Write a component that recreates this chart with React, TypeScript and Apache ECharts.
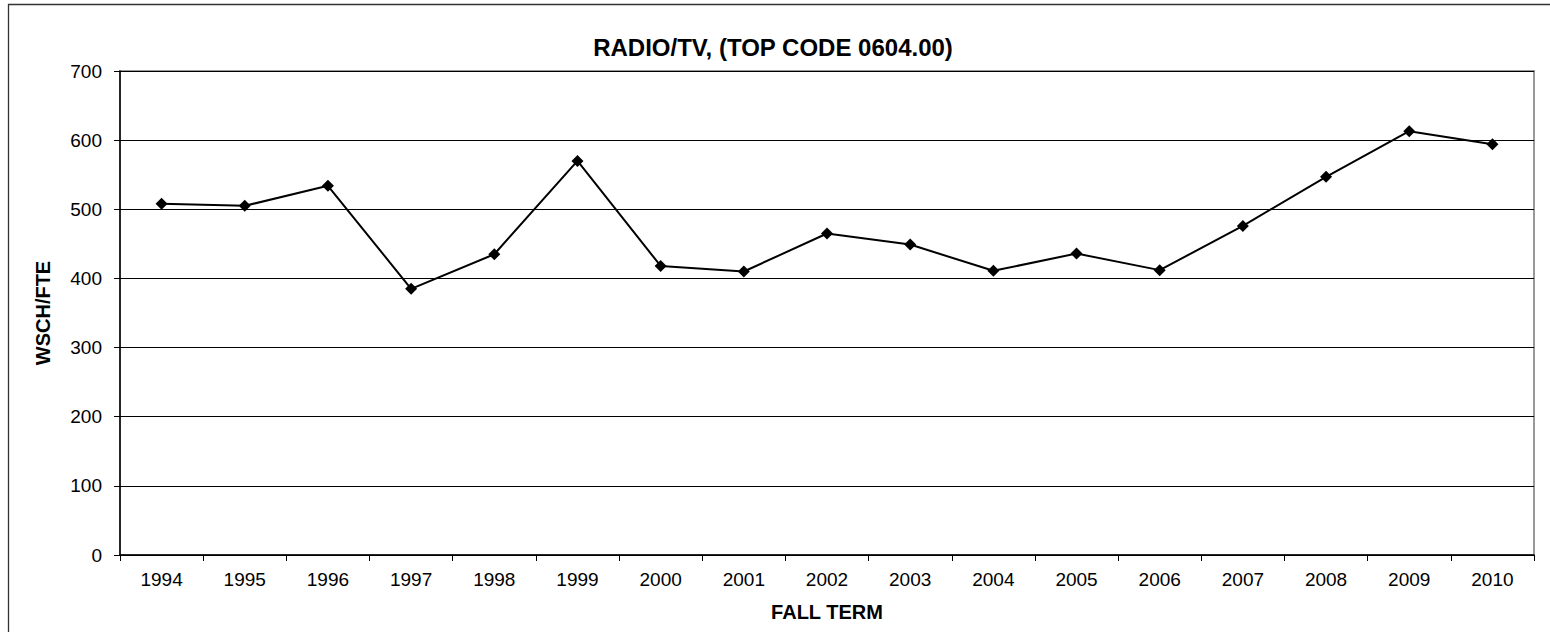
import React, { useEffect, useRef } from "react";
import * as echarts from "echarts";

const years = ["1994", "1995", "1996", "1997", "1998", "1999", "2000", "2001", "2002", "2003", "2004", "2005", "2006", "2007", "2008", "2009", "2010"];
const wschFte = [508, 505, 534, 385, 435, 570, 418, 410, 465, 449, 411, 436, 412, 476, 547, 613, 594];
const chartTitle = "RADIO/TV, (TOP CODE 0604.00)";
const xTitle = "FALL TERM";
const yTitle = "WSCH/FTE";

const FONT = "'Liberation Sans', Arial, sans-serif";

export default function App() {
  const ref = useRef<HTMLDivElement>(null);
  useEffect(() => {
    if (!ref.current) return;
    const chart = echarts.init(ref.current, null, { renderer: "svg" });
    chart.setOption({
      animation: false,
      backgroundColor: "#ffffff",
      title: {
        text: chartTitle,
        left: 768,
        top: 30,
        textAlign: "center",
        textStyle: { fontFamily: FONT, fontSize: 24, fontWeight: "bold", color: "#000" },
      },
      graphic: [
        {
          type: "polyline",
          shape: { points: [[8.5, 700], [8.5, 4.5], [1600, 4.5]] },
          style: { fill: "none", stroke: "#333", lineWidth: 1.3 },
          silent: true,
        },
      ],
      grid: {
        left: 120,
        right: 16,
        top: 71,
        bottom: 77,
        show: true,
        borderColor: "#999",
        borderWidth: 2,
        containLabel: false,
        outerBoundsMode: "none",
      },
      xAxis: {
        type: "category",
        data: years,
        boundaryGap: true,
        name: xTitle,
        nameLocation: "middle",
        nameGap: 47,
        nameTextStyle: { fontFamily: FONT, fontSize: 20, fontWeight: "bold", color: "#000" },
        axisLine: { lineStyle: { color: "#000", width: 1.5 } },
        axisTick: { show: true, alignWithLabel: false, length: 6, lineStyle: { color: "#000" } },
        axisLabel: { fontFamily: FONT, fontSize: 19, color: "#000", margin: 15, interval: 0 },
        splitLine: { show: false },
      },
      yAxis: {
        type: "value",
        min: 0,
        max: 700,
        interval: 100,
        name: yTitle,
        nameLocation: "middle",
        nameGap: 67,
        nameRotate: 90,
        nameTextStyle: { fontFamily: FONT, fontSize: 20, fontWeight: "bold", color: "#000" },
        axisLine: { show: true, lineStyle: { color: "#000", width: 1.5 } },
        axisTick: { show: true, length: 6, lineStyle: { color: "#000" } },
        axisLabel: { fontFamily: FONT, fontSize: 19, color: "#000", margin: 18 },
        splitLine: { show: true, lineStyle: { color: "#000", width: 1 } },
      },
      series: [
        {
          type: "line",
          data: wschFte,
          symbol: "diamond",
          symbolSize: 12,
          itemStyle: { color: "#000" },
          lineStyle: { color: "#000", width: 2 },
        },
      ],
    });
    return () => chart.dispose();
  }, []);
  return (
    <div
      ref={ref}
      style={{ position: "absolute", left: 0, top: 0, width: 1550, height: 632 }}
    />
  );
}
